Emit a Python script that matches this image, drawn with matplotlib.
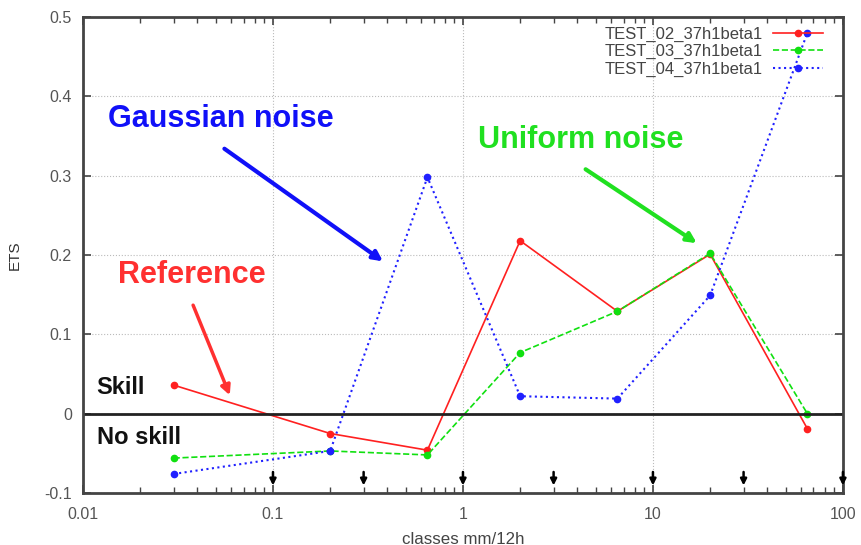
import numpy as np
import matplotlib
matplotlib.use('Agg')
import matplotlib.pyplot as plt
from matplotlib.ticker import LogLocator, NullFormatter, FixedLocator

plt.rcParams['font.family'] = ['Liberation Sans', 'DejaVu Sans']

# data
classes = [0.03, 0.2, 0.65, 2, 6.5, 20, 65]
ets_02 = [0.036, -0.025, -0.046, 0.218, 0.129, 0.201, -0.019]
ets_03 = [-0.056, -0.047, -0.052, 0.077, 0.129, 0.202, 0.0]
ets_04 = [-0.076, -0.047, 0.298, 0.022, 0.019, 0.149, 0.48]
labels = ['TEST_02_37h1beta1', 'TEST_03_37h1beta1', 'TEST_04_37h1beta1']
thresholds = [0.1, 0.3, 1, 3, 10, 30, 100]

fig = plt.figure(figsize=(8.61, 5.45), dpi=100)
ax = fig.add_axes([0.0964, 0.0954, 0.8826, 0.8734])

ax.set_xscale('log')
ax.set_xlim(0.01, 100)
ax.set_ylim(-0.1, 0.5)

ax.plot(classes, ets_02, color='#ff2020', ls='-', lw=1.2, marker='o', ms=4.5, label=labels[0])
ax.plot(classes, ets_03, color='#10e010', ls='--', lw=1.2, marker='o', ms=4.5, label=labels[1])
ax.plot(classes, ets_04, color='#2020ff', ls=':', lw=1.5, marker='o', ms=4.5, label=labels[2])

ax.axhline(0, color='#222222', lw=2)

# threshold arrows at the bottom
for t in thresholds:
    ax.annotate('', xy=(t, -0.094), xytext=(t, -0.07),
                arrowprops=dict(arrowstyle='-|>', color='black', lw=1.8, mutation_scale=9))

# grid and ticks
ax.yaxis.set_major_locator(FixedLocator(np.arange(-0.1, 0.51, 0.1)))
ax.set_yticklabels(['-0.1', '0', '0.1', '0.2', '0.3', '0.4', '0.5'])
ax.xaxis.set_major_locator(FixedLocator([0.01, 0.1, 1, 10, 100]))
ax.set_xticklabels(['0.01', '0.1', '1', '10', '100'])
ax.xaxis.set_minor_locator(LogLocator(base=10, subs=np.arange(2, 10)))
ax.xaxis.set_minor_formatter(NullFormatter())
ax.grid(True, which='major', color='#bbbbbb', ls=':', lw=0.8)
ax.tick_params(which='both', direction='in', top=True, right=True, colors='#444444',
               labelcolor='#555555', labelsize=11.5)
ax.tick_params(which='major', length=6, width=1.2)
ax.tick_params(which='minor', length=4, width=1)
ax.tick_params(axis='x', pad=10)
ax.tick_params(axis='y', pad=8)
for s in ax.spines.values():
    s.set_linewidth(2)
    s.set_color('#444444')

ax.set_xlabel('classes mm/12h', fontsize=12.2, color='#444444', labelpad=7)
ax.set_ylabel('ETS', fontsize=11, color='#333333', labelpad=16)

# annotations
ax.text(0.01354, 0.372, 'Gaussian noise', color='#1010f8', fontsize=22, fontweight='bold', va='center')
ax.annotate('', xy=(0.39, 0.19), xytext=(0.054, 0.336),
            arrowprops=dict(arrowstyle='-|>', color='#1010f8', lw=3, mutation_scale=14))
ax.text(1.2, 0.345, 'Uniform noise', color='#20e020', fontsize=22, fontweight='bold', va='center')
ax.annotate('', xy=(17.5, 0.213), xytext=(4.3, 0.31),
            arrowprops=dict(arrowstyle='-|>', color='#20e020', lw=3, mutation_scale=14))
ax.text(0.0153, 0.175, 'Reference', color='#ff3030', fontsize=22, fontweight='bold', va='center')
ax.annotate('', xy=(0.06, 0.02), xytext=(0.0375, 0.14),
            arrowprops=dict(arrowstyle='-|>', color='#ff3030', lw=2.5, mutation_scale=14))
ax.text(0.0118, 0.033, 'Skill', color='#111111', fontsize=17, fontweight='bold', va='center')
ax.text(0.0118, -0.03, 'No skill', color='#111111', fontsize=17, fontweight='bold', va='center')

ax.legend(loc='upper right', bbox_to_anchor=(0.978, 0.987), frameon=False, markerfirst=False,
          fontsize=12, handlelength=3.0, labelspacing=0.15, borderaxespad=0, handletextpad=0.6,
          borderpad=0.2, labelcolor='#444444')

fig.savefig('out.png', dpi=100)
